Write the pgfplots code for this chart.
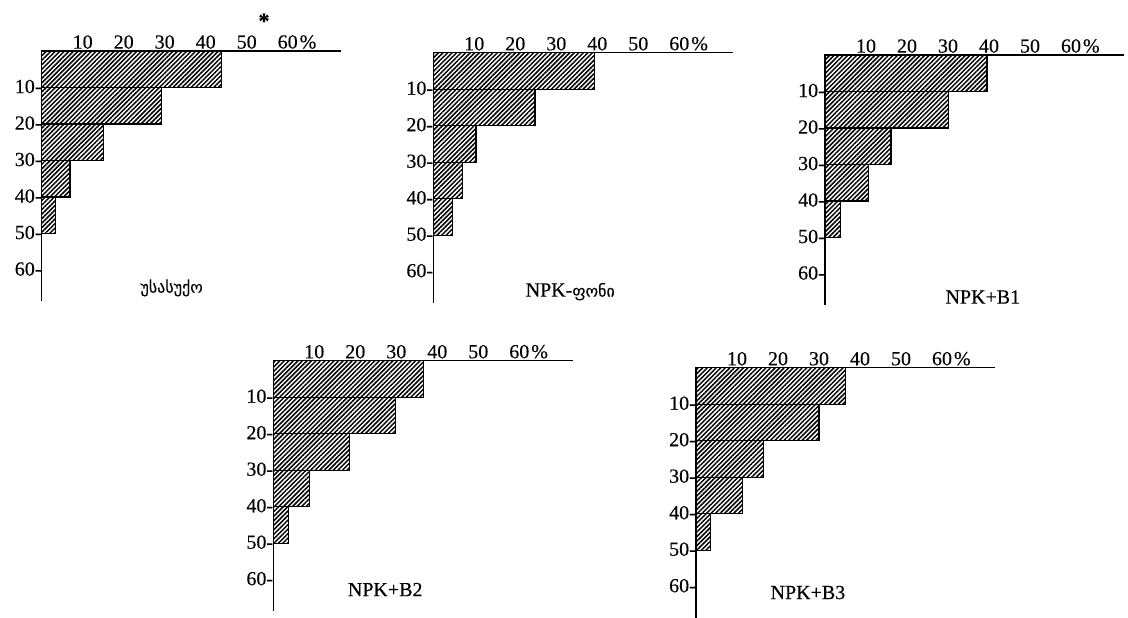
\documentclass[border=0pt]{standalone}
\usepackage{fontspec}
\setmainfont{Liberation Serif}[FakeBold=0.3]
\newfontfamily\geo{DejaVu Sans}[FakeBold=0.3]
\usepackage{pgfplots}
\usepackage{pgfplotstable}
\pgfplotsset{compat=1.18}
\usetikzlibrary{patterns.meta}

% share of roots (%) per soil layer (cm), bars centred in each 10 cm layer
\pgfplotstableread{
depth pct
-5  43.9
-15 29.3
-25 15.0
-35 6.9
-45 3.4
}\control
\pgfplotstableread{
depth pct
-5  39.4
-15 24.8
-25 10.4
-35 7.2
-45 4.7
}\npk
\pgfplotstableread{
depth pct
-5  39.5
-15 30.2
-25 16.1
-35 10.7
-45 3.7
}\npkbone
\pgfplotstableread{
depth pct
-5  36.6
-15 29.9
-25 18.5
-35 8.8
-45 3.7
}\npkbtwo
\pgfplotstableread{
depth pct
-5  36.5
-15 30.0
-25 16.4
-35 11.4
-45 3.6
}\npkbthree

\pgfplotsset{
  rootpanel/.style={
    x=4.1pt, y=3.65pt,
    xmin=0, xmax=73, ymin=-68.5, ymax=0,
    enlargelimits=false,
    axis x line*=top, axis y line*=left,
    axis line style={line width=1.2pt},
    xtick={10,20,30,40,50,60},
    xticklabels={10,20,30,40,50,{60\rlap{\kern2pt\%}}},
    ytick={-10,-20,-30,-40,-50,-60},
    yticklabels={10-,20-,30-,40-,50-,60-},
    major tick length=0pt,
    xticklabel style={inner sep=0pt, anchor=south, yshift=2pt,
      font=\fontsize{20}{20}\selectfont},
    yticklabel style={inner sep=0pt, anchor=east, yshift=1pt,
      font=\fontsize{20}{20}\selectfont},
    anchor=north west,
    clip=false,
  },
  rootbars/.style={
    xbar, bar width=10, draw=black, line width=1.2pt,
    pattern={Lines[angle=45,distance=3.2pt,line width=1.5pt]},
  },
}

\begin{document}
\begin{tikzpicture}
\useasboundingbox (0,0) rectangle (1128pt,618pt);

\begin{axis}[rootpanel, at={(41.7pt,567pt)}]
  \addplot[rootbars] table[x=pct, y=depth] {\control};
  \node[font=\geo\fontsize{16}{16}\selectfont] at (axis cs:31.7,-64.9) {უსასუქო};
\end{axis}
\node[font=\bfseries\fontsize{22}{22}\selectfont] at (264pt,597pt) {*};

\begin{axis}[rootpanel, at={(433.3pt,565.3pt)}]
  \addplot[rootbars] table[x=pct, y=depth] {\npk};
  \node[font=\fontsize{20}{20}\selectfont] at (axis cs:33.4,-65.5) {NPK-{\geo\fontsize{16}{16}\selectfont ფონი}};
\end{axis}

\begin{axis}[rootpanel, at={(825pt,563pt)}]
  \addplot[rootbars] table[x=pct, y=depth] {\npkbone};
  \node[font=\fontsize{20}{20}\selectfont] at (axis cs:38.5,-66.3) {NPK+B1};
\end{axis}

\begin{axis}[rootpanel, at={(273.3pt,257.3pt)}]
  \addplot[rootbars] table[x=pct, y=depth] {\npkbtwo};
  \node[font=\fontsize{20}{20}\selectfont] at (axis cs:27.3,-62.7) {NPK+B2};
\end{axis}

\begin{axis}[rootpanel, at={(696pt,250.3pt)}]
  \addplot[rootbars] table[x=pct, y=depth] {\npkbthree};
  \node[font=\fontsize{20}{20}\selectfont] at (axis cs:27.3,-61.6) {NPK+B3};
\end{axis}
\end{tikzpicture}
\end{document}
